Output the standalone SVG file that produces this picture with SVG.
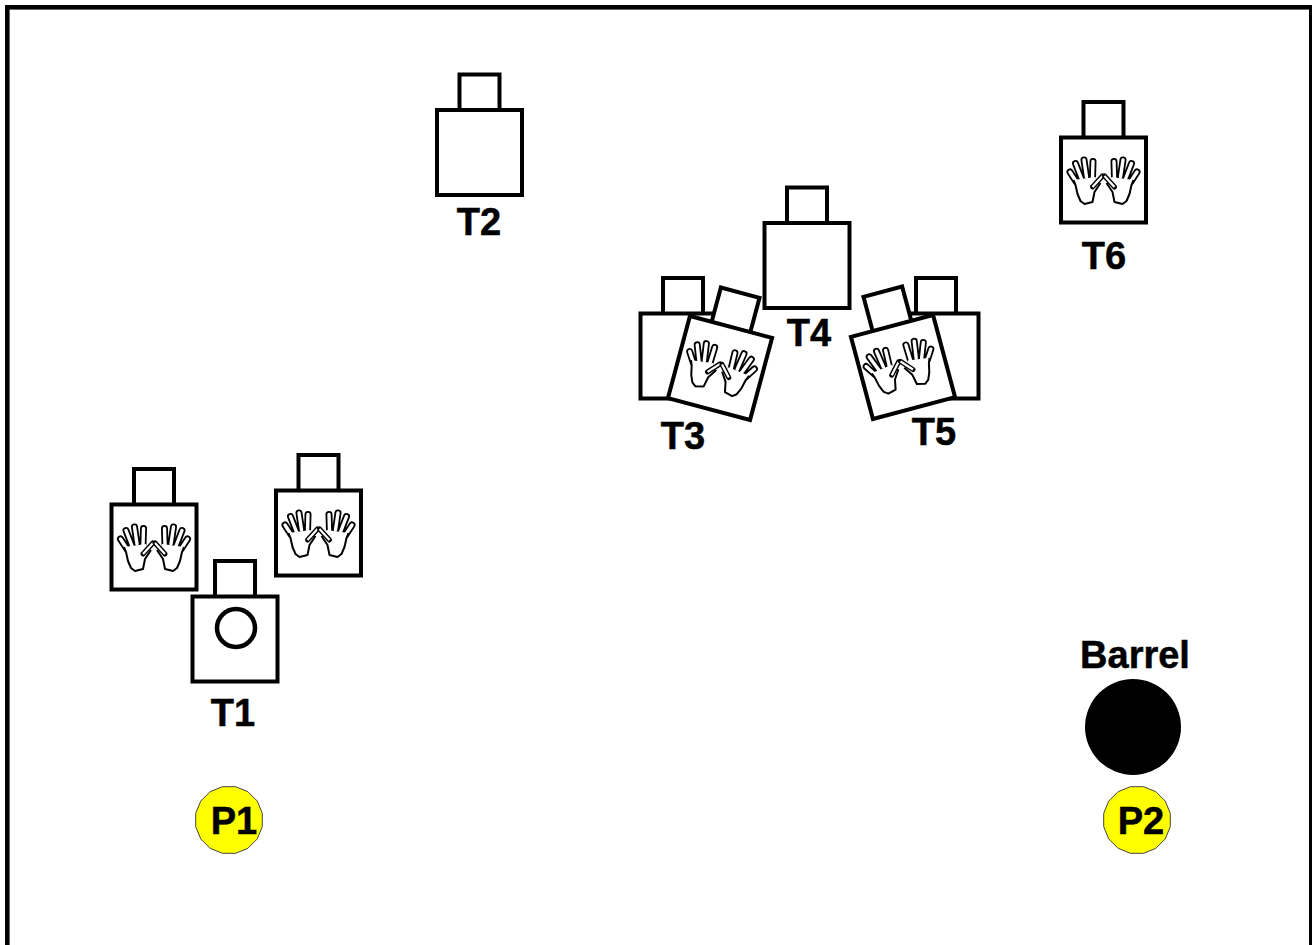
<svg xmlns="http://www.w3.org/2000/svg" xmlns:xlink="http://www.w3.org/1999/xlink" width="1312" height="945" viewBox="0 0 1312 945">
<style>
.b{fill:#fff;stroke:#000;stroke-width:4}
.l{font-family:"Liberation Sans",Arial,sans-serif;font-weight:700;font-size:38px;fill:#000;stroke:#000;stroke-width:.5;text-anchor:middle}
.fo{fill:none;stroke:#000;stroke-width:7;stroke-linecap:round}
.fi{fill:none;stroke:#fff;stroke-width:3.4;stroke-linecap:round}
.to{fill:none;stroke:#000;stroke-width:5;stroke-linecap:round}
.ti{fill:none;stroke:#fff;stroke-width:2.2;stroke-linecap:butt}
.pm{fill:#fff}
.h{fill:none;stroke:#000;stroke-width:2;stroke-linejoin:round}
.p{fill:#ff0;stroke:#444;stroke-width:1}
</style>
<defs>
<g id="box"><rect class="b" x="-20" y="-78" width="40" height="36"/><rect class="b" x="-42.5" y="-42.5" width="85" height="85"/></g>
<path id="fingers" d="M-27 2L-33.500-8M-22-1L-28-16.500M-17-3L-19.500-20M-11-2L-10.500-18.500"/>
<path id="thumb" d="M-11 7L-1-4"/>
<g id="hand">
<use xlink:href="#fingers" href="#fingers" class="fo"/>
<use xlink:href="#fingers" href="#fingers" class="fi"/>
<path class="pm" d="M-19 24L-23 21L-26 14L-28 5L-30 0L-8-3L-6 3L-9 12L-11 22Z"/>
<path class="h" d="M-30 0L-28 5L-26 14L-23 21L-19 24L-11 22L-9 12L-3 3"/>
<use xlink:href="#thumb" href="#thumb" class="to"/>
<use xlink:href="#thumb" href="#thumb" class="ti"/>
</g>
<g id="hands"><use xlink:href="#hand" href="#hand"/><use xlink:href="#hand" href="#hand" transform="scale(-1 1)"/></g>
<polygon id="dot" class="p" points="33.300,6.600 28.300,18.900 18.900,28.300 6.600,33.300 -6.600,33.300 -18.900,28.300 -28.300,18.900 -33.300,6.600 -33.300,-6.600 -28.300,-18.900 -18.900,-28.300 -6.600,-33.300 6.600,-33.300 18.900,-28.300 28.300,-18.900 33.300,-6.600"/>
</defs>
<rect id="frame" x="7.3" y="7.3" width="1304" height="960" fill="#fff" stroke="#000" stroke-width="4.6"/>
<g id="connectors"/>
<g id="T1-left" transform="translate(154 547)"><use xlink:href="#box" href="#box"/><use xlink:href="#hands" href="#hands"/></g>
<g id="T1-right" transform="translate(318.500 533)"><use xlink:href="#box" href="#box"/><use xlink:href="#hands" href="#hands"/></g>
<g id="T1" transform="translate(235 639)"><use xlink:href="#box" href="#box"/><circle cx="1" cy="-11" r="19" fill="none" stroke="#000" stroke-width="4.500"/></g>
<text class="l" x="233" y="726">T1</text>
<g id="T2" transform="translate(479.500 152.500)"><use xlink:href="#box" href="#box"/></g>
<text class="l" x="479" y="235">T2</text>
<g id="T3-back" transform="translate(683 356)"><use xlink:href="#box" href="#box"/></g>
<g id="T3" transform="translate(720 368) rotate(15)"><use xlink:href="#box" href="#box"/><use xlink:href="#hands" href="#hands"/></g>
<text class="l" x="683" y="449">T3</text>
<g id="T4" transform="translate(807 265.500)"><use xlink:href="#box" href="#box"/></g>
<text class="l" x="809" y="346">T4</text>
<g id="T5-back" transform="translate(936 356)"><use xlink:href="#box" href="#box"/></g>
<g id="T5" transform="translate(903 367) rotate(-15)"><use xlink:href="#box" href="#box"/><use xlink:href="#hands" href="#hands" transform="translate(-2 -2)"/></g>
<text class="l" x="934" y="445">T5</text>
<g id="T6" transform="translate(1103.500 180)"><use xlink:href="#box" href="#box"/><use xlink:href="#hands" href="#hands"/></g>
<text class="l" x="1104" y="269">T6</text>
<g id="P1"><use xlink:href="#dot" href="#dot" x="229" y="820"/><text class="l" x="234" y="834">P1</text></g>
<g id="P2"><use xlink:href="#dot" href="#dot" x="1137" y="820"/><text class="l" x="1141" y="834">P2</text></g>
<g id="Barrel"><circle cx="1133" cy="727" r="48" fill="#000"/><text class="l" x="1135" y="668">Barrel</text></g>
</svg>
